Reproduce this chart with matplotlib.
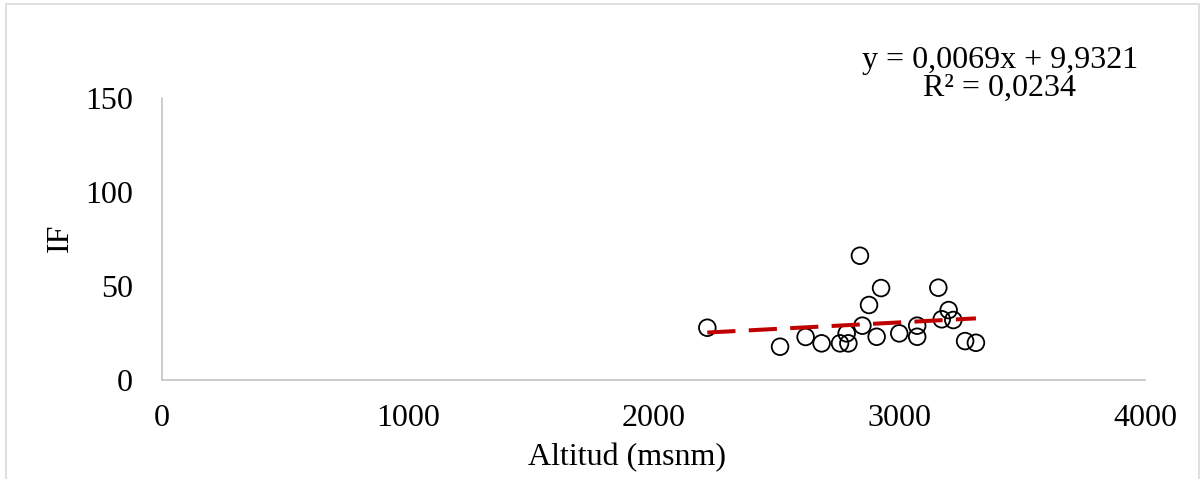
import matplotlib
matplotlib.use('Agg')
import matplotlib.pyplot as plt
import numpy as np
from matplotlib.patches import Rectangle

plt.rcParams['font.family'] = ['Liberation Serif', 'DejaVu Serif']

# === Data ===
altitud = [2219, 2515, 2619, 2684, 2759, 2793, 2786, 2840, 2850, 2877, 2926,
           2908, 3000, 3073, 3073, 3159, 3173, 3201, 3220, 3268, 3312]
indice_f = [27.8, 17.7, 22.9, 19.5, 19.5, 19.5, 24.8, 66.1, 28.9, 39.9, 48.9,
            23.0, 24.8, 28.9, 23.0, 49.1, 32.3, 37.2, 31.9, 20.7, 19.8]
slope, intercept = 0.0069, 9.9321
r2 = 0.0234
x_ticks = [0, 1000, 2000, 3000, 4000]
y_ticks = [0, 50, 100, 150]

FS = 23
W, H = 1201, 479
fig = plt.figure(figsize=(W / 100, H / 100), dpi=100)
ax = fig.add_axes([162 / W, 1 - 380 / H, (1145 - 162) / W, (380 - 98) / H])

# outer chart frame (light grey)
fig.patches.append(Rectangle((6 / W, -0.05), (1199 - 6) / W, 1.05 - 4 / H,
                             transform=fig.transFigure, fill=False,
                             edgecolor='#D9D9D9', linewidth=1.2))

ax.scatter(altitud, indice_f, s=12 ** 2, facecolors='none',
           edgecolors='black', linewidths=1.3, zorder=3)

# linear trend line
xs = np.array([min(altitud), max(altitud)])
ax.plot(xs, slope * xs + intercept, color='#C00000', linewidth=2.9,
        dashes=(7, 3.3), zorder=4)

ax.set_xlim(0, 4000)
ax.set_ylim(0, 150)
ax.set_xticks(x_ticks)
ax.set_yticks(y_ticks)
ax.tick_params(axis='both', length=0, labelsize=FS)
ax.tick_params(axis='x', pad=17)
ax.tick_params(axis='y', pad=21)

for side in ('top', 'right'):
    ax.spines[side].set_visible(False)
for side in ('left', 'bottom'):
    ax.spines[side].set_color('#BFBFBF')
    ax.spines[side].set_linewidth(1.1)

fig.text(627 / W, 1 - 458 / H, 'Altitud (msnm)', ha='center', va='center',
         fontsize=FS)
fig.text(60 / W, 1 - 238 / H, 'IF', ha='center', va='center', rotation=90,
         fontsize=FS)

eq_label = f'y = {slope:.4f}x + {intercept:.4f}'.replace('.', ',')
r2_label = f'R² = {r2:.4f}'.replace('.', ',')
fig.text(1000 / W, 1 - 74 / H, eq_label + '\n' + r2_label, ha='center',
         va='center', multialignment='center', linespacing=0.95, fontsize=FS)

fig.savefig('out.png', dpi=100)
